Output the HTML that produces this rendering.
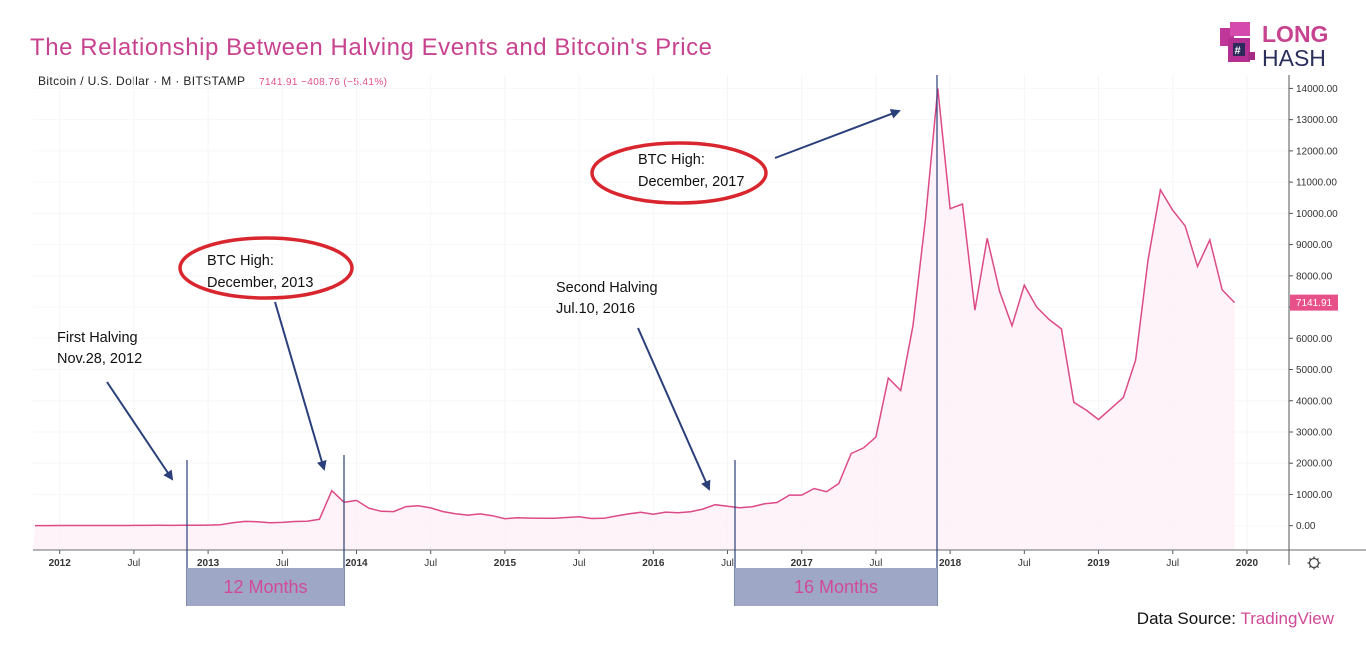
<!DOCTYPE html>
<html><head><meta charset="utf-8">
<style>
html,body{margin:0;padding:0;background:#fff;}
body{width:1366px;height:650px;overflow:hidden;position:relative;font-family:"Liberation Sans",sans-serif;}
svg{position:absolute;left:0;top:0;}
</style></head>
<body>
<svg id="chart" width="1366" height="650" viewBox="0 0 1366 650">
  <text x="30" y="55" font-size="24" fill="#c8438f" textLength="682" lengthAdjust="spacing">The Relationship Between Halving Events and Bitcoin's Price</text>
  <g>
    <text x="38" y="85" font-size="12" fill="#222" textLength="207" lengthAdjust="spacing">Bitcoin / U.S. Dollar · M · BITSTAMP</text>
    <text x="259" y="85" font-size="10" fill="#e0508a" textLength="128" lengthAdjust="spacing">7141.91 −408.76 (−5.41%)</text>
  </g>
  <g>
    <rect x="1220" y="28" width="14" height="18" fill="#c0379a"/>
    <rect x="1230" y="22" width="20" height="14" fill="#d54aad"/>
    <rect x="1228" y="38" width="22" height="24" fill="#b32f91"/>
    <rect x="1233" y="43" width="12" height="13" fill="#2b2a5a"/>
    <text x="1234.5" y="54" font-size="11" fill="#fff" font-weight="bold">#</text>
    <rect x="1248" y="52" width="7" height="8" fill="#a42a85"/>
    <text x="1262" y="42" font-size="23" font-weight="bold" fill="#c8438f">LONG</text>
    <text x="1262" y="66" font-size="23" fill="#2b2f5c">HASH</text>
  </g>
  <g id="grid"></g>
  <path id="area" fill="#fdf0f6" opacity="0.8"/>
  <path id="line" fill="none" stroke="#dc4a88" stroke-width="1.5"/>
  <g id="axes"></g>

  <g font-size="14.5" fill="#111">
    <line x1="187" y1="460" x2="187" y2="606" stroke="#2b3f7a" stroke-width="1.2"/>
    <line x1="344" y1="455" x2="344" y2="606" stroke="#2b3f7a" stroke-width="1.2"/>
    <line x1="735" y1="460" x2="735" y2="606" stroke="#2b3f7a" stroke-width="1.2"/>
    <line x1="937" y1="75" x2="937" y2="606" stroke="#2b3f7a" stroke-width="1.2"/>
    <rect x="187" y="568" width="157" height="38" fill="#9ea8c6"/>
    <text x="265.5" y="593" font-size="18" fill="#d04a98" text-anchor="middle">12 Months</text>
    <rect x="735" y="568" width="202" height="38" fill="#9ea8c6"/>
    <text x="836" y="593" font-size="18" fill="#d04a98" text-anchor="middle">16 Months</text>

    <ellipse cx="266" cy="268" rx="86" ry="30" fill="none" stroke="#d9262e" stroke-width="3.5"/>
    <text x="207" y="265">BTC High:</text>
    <text x="207" y="287">December, 2013</text>
    <ellipse cx="679" cy="173" rx="87" ry="30" fill="none" stroke="#d9262e" stroke-width="3.5"/>
    <text x="638" y="164">BTC High:</text>
    <text x="638" y="186">December, 2017</text>
    <text x="57" y="342">First Halving</text>
    <text x="57" y="363">Nov.28, 2012</text>
    <text x="556" y="292">Second Halving</text>
    <text x="556" y="313">Jul.10, 2016</text>

    <defs><marker id="ah" markerWidth="10" markerHeight="10" refX="8" refY="5" orient="auto" markerUnits="userSpaceOnUse" viewBox="0 0 10 10"><path d="M0,0 L10,5 L0,10 Z" fill="#2b3f7a"/></marker></defs>
    <g stroke="#2b3f7a" stroke-width="2" marker-end="url(#ah)">
      <line x1="107" y1="382" x2="172" y2="479"/>
      <line x1="275" y1="302" x2="324" y2="469"/>
      <line x1="638" y1="328" x2="709" y2="489"/>
      <line x1="775" y1="158" x2="899" y2="111"/>
    </g>
  </g>
  <text x="1334" y="624" font-size="17" text-anchor="end"><tspan fill="#111">Data Source: </tspan><tspan fill="#d04a98">TradingView</tspan></text>
</svg>
<script>
// monthly closes starting Nov 2011
const startYear = 2011, startMonth = 10;
const prices = [3,4.7,
 5.5,4.9,4.9,5,5.1,6.7,9.3,10,12.4,11.2,12.6,13.5,
 20,33,93,139,129,97,106,135,141,204,1120,750,
 810,560,460,450,610,640,570,450,380,340,378,320,
 225,254,244,236,240,263,284,230,236,311,377,430,
 368,437,416,448,531,673,624,575,609,700,742,980,
 980,1190,1090,1350,2310,2490,2840,4730,4330,6410,9800,14000,
 10150,10300,6900,9200,7500,6400,7700,7000,6600,6300,3950,3700,
 3400,3750,4100,5300,8500,10750,10100,9600,8300,9150,7550,7141.91];
const yTicks = [0,1000,2000,3000,4000,5000,6000,7000,8000,9000,10000,11000,12000,13000,14000];
const xTickLabels = ["2012","Jul","2013","Jul","2014","Jul","2015","Jul","2016","Jul","2017","Jul","2018","Jul","2019","Jul","2020"];
const lastPrice = "7141.91";

const NS = "http://www.w3.org/2000/svg";
const L = 33, R = 1289, T = 75, B = 550;
function xOf(i){ const m = (startYear*12+startMonth+i) - (2012*12); return 950.1 - 6*148.4 + m*12.367; }
function xOfMonthsFrom2012(m){ return 950.1 - 6*148.4 + m*12.367; }
function yOf(v){ return 525.7 - v*0.031235; }
const grid = document.getElementById('grid'), axes = document.getElementById('axes');
function mk(tag, attrs, parent){ const e = document.createElementNS(NS, tag); for (const k in attrs) e.setAttribute(k, attrs[k]); parent.appendChild(e); return e; }

yTicks.forEach(v => {
  const y = yOf(v);
  const g = mk('line', {x1:L, x2:R, y1:y, y2:y, stroke:'#f7f7f9', 'stroke-width':1}, grid);
  
  
  mk('line', {x1:R, x2:R+4, y1:y, y2:y, stroke:'#555'}, axes);
  const t = mk('text', {x:R+7, y:y+3.5, 'font-size':10, fill:'#333'}, axes);
  t.textContent = v.toFixed(2);
  
  
});
xTickLabels.forEach((lab, k) => {
  const x = xOfMonthsFrom2012(k*6);
  const g = mk('line', {x1:x, x2:x, y1:T, y2:B, stroke:'#f5f5f7', 'stroke-width':1}, grid);
  
  
  mk('line', {x1:x, x2:x, y1:B, y2:B+4, stroke:'#555'}, axes);
  const t = mk('text', {x:x, y:B+16, 'font-size':10, fill:'#333', 'text-anchor':'middle', 'font-weight': lab==='Jul'?'normal':'bold'}, axes);
  t.textContent = lab;
  
  
});
const ax = mk('line', {x1:L, x2:1366, y1:B, y2:B, stroke:'#888', 'stroke-width':1.2}, axes);


const ay = mk('line', {x1:R, x2:R, y1:75, y2:565, stroke:'#555', 'stroke-width':1}, axes);



let d = '';
prices.forEach((v,i) => { d += (i?'L':'M') + Math.max(L, xOf(i)).toFixed(1) + ',' + yOf(v).toFixed(1); });
const line = document.getElementById('line');
line.setAttribute('d', d);


const area = document.getElementById('area');
area.setAttribute('d', d + 'L' + xOf(prices.length-1).toFixed(1) + ',' + B + 'L' + L + ',' + B + 'Z');



const py = yOf(prices[prices.length-1]);
const pb = mk('rect', {x:R+1, y:py-8, width:48, height:16, fill:'#e8508a'}, axes);


const pt = mk('text', {x:R+25, y:py+3.5, 'font-size':10, fill:'#fff', 'text-anchor':'middle'}, axes);
pt.textContent = lastPrice;



const gear = mk('g', {}, axes);


mk('circle', {cx:1314, cy:563, r:4.5, fill:'none', stroke:'#444', 'stroke-width':1.3}, gear);
for (let a=0;a<8;a++){ const r=a*Math.PI/4; mk('line',{x1:1314+4.5*Math.cos(r),y1:563+4.5*Math.sin(r),x2:1314+6.5*Math.cos(r),y2:563+6.5*Math.sin(r),stroke:'#444','stroke-width':1.3}, gear); }
</script>
</body></html>
